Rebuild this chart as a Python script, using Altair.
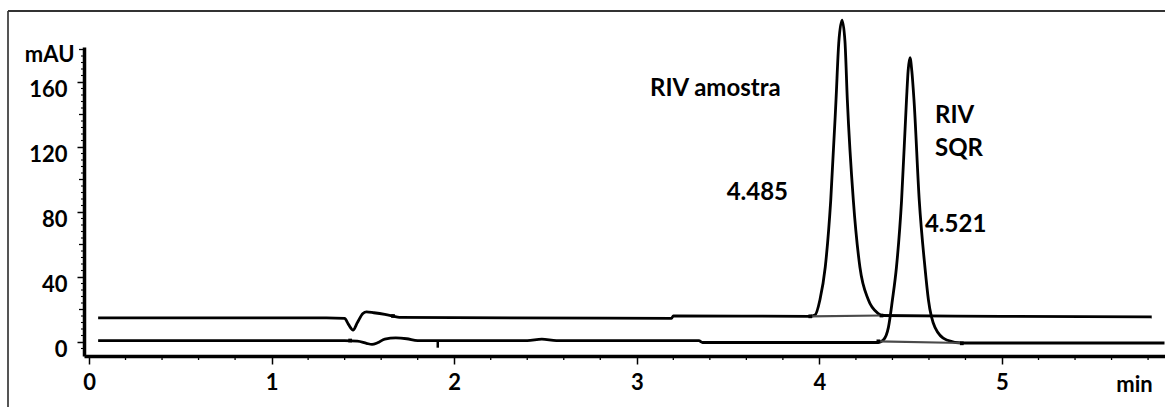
import altair as alt
import pandas as pd

# ---------------- data ----------------
# Trace 1: "RIV amostra" (upper trace), time (min) / absorbance (mAU)
t1 = [0.05, 1.30, 1.40, 1.42, 1.446, 1.47, 1.50, 1.52, 1.56, 1.62, 1.665, 1.70,
      3.19, 3.20, 3.95, 3.976, 4.003, 4.032, 4.062, 4.091, 4.106, 4.124, 4.14,
      4.153, 4.186, 4.222, 4.268, 4.323, 4.34, 5.0, 5.82]
v1 = [14.8, 14.8, 14.5, 11.0, 7.4, 12.0, 17.5, 18.5, 18.0, 17.0, 16.0, 15.2,
      14.6, 16.0, 15.8, 16.6, 26.0, 46.0, 87.0, 149.0, 184.0, 198.0, 185.0,
      149.0, 87.0, 46.0, 26.0, 17.5, 16.3, 15.8, 15.4]

# Trace 2: "RIV SQR" (lower trace)
t2 = [0.05, 1.40, 1.47, 1.52, 1.55, 1.58, 1.62, 1.68, 1.74, 1.80, 2.40, 2.48,
      2.56, 3.34, 3.36, 4.323, 4.35, 4.378, 4.40, 4.422, 4.45, 4.477, 4.486,
      4.496, 4.506, 4.518, 4.547, 4.578, 4.597, 4.633, 4.697, 4.78, 5.89]
v2 = [0.8, 0.8, 0.6, -0.8, -1.5, -0.5, 1.8, 2.5, 2.0, 0.8, 0.8, 1.8,
      0.8, 0.8, -0.3, -0.3, 1.2, 9.0, 26.0, 46.0, 87.0, 149.0, 167.0,
      175.0, 167.0, 149.0, 87.0, 46.0, 26.0, 9.0, 1.2, -0.6, -0.6]

# integration baselines (start / end of each peak)
base_t = [3.95, 4.34, 4.323, 4.78]
base_v = [15.8, 16.3, 0.4, -0.6]
base_id = ["p1", "p1", "p2", "p2"]

# integration markers
mark_t = [3.95, 4.34, 4.323, 4.78, 1.665, 1.43]
mark_v = [15.8, 16.3, 0.4, -0.8, 16.0, 0.9]

# small event tick on the lower trace
evt_t = [1.91]
evt_v = [0.8]
evt_v2 = [-3.5]

# annotations
ann_text = ["RIV amostra", "4.485", "RIV", "SQR", "4.521"]
ann_t = [3.43, 3.66, 4.633, 4.633, 4.578]
ann_v = [156.0, 92.0, 139.0, 119.0, 72.0]
ann_align = ["center", "center", "left", "left", "left"]

# axes
x_major = [0, 1, 2, 3, 4, 5]
x_minor = [0.2, 0.4, 0.6, 0.8, 1.2, 1.4, 1.6, 1.8, 2.2, 2.4, 2.6, 2.8,
           3.2, 3.4, 3.6, 3.8, 4.2, 4.4, 4.6, 4.8, 5.2, 5.4, 5.6, 5.8]
y_major = [0, 40, 80, 120, 160]
y_mid = [20, 60, 100, 140, 180]
y_minor = [-4, 4, 8, 12, 16, 24, 28, 32, 36, 44, 48, 52, 56, 64, 68, 72, 76,
           84, 88, 92, 96, 104, 108, 112, 116, 124, 128, 132, 136, 144, 148,
           152, 156, 164, 168, 172, 176]

X_DOMAIN = [-0.0274, 5.8927]
Y_DOMAIN = [-8.615, 181.54]

# ---------------- chart ----------------
W, H = 1081, 309
FONT = "Lato"

xs = alt.Scale(domain=X_DOMAIN, nice=False, zero=False)
ys = alt.Scale(domain=Y_DOMAIN, nice=False, zero=False)

x_axis = alt.Axis(values=x_major, format="d", tickSize=8, tickWidth=1.5,
                  tickColor="black", domainColor="black", domainWidth=3.5,
                  labelFont=FONT, labelFontWeight="bold", labelFontSize=22,
                  labelColor="black", labelPadding=8, grid=False,
                  title="min", titleFont=FONT, titleFontWeight="bold",
                  titleFontSize=22, titleColor="black", titleX=1050, titleY=28,
                  titleAlign="center", titleBaseline="middle", titleAngle=0)
y_axis = alt.Axis(values=y_major, format="d", tickSize=7, tickWidth=1.5,
                  tickColor="black", domainColor="black", domainWidth=3.5,
                  labelFont=FONT, labelFontWeight="bold", labelFontSize=22,
                  labelColor="black", labelPadding=10, labelOffset=7, grid=False,
                  title="mAU", titleFont=FONT, titleFontWeight="bold",
                  titleFontSize=22, titleColor="black", titleX=-10, titleY=7,
                  titleAlign="right", titleBaseline="middle", titleAngle=0)


def X(field="t"):
    return alt.X(f"{field}:Q", scale=xs, axis=x_axis, title="min")


def Y(field="v"):
    return alt.Y(f"{field}:Q", scale=ys, axis=y_axis, title="mAU")


traces = pd.DataFrame({
    "t": t1 + t2,
    "v": v1 + v2,
    "series": ["RIV amostra"] * len(t1) + ["RIV SQR"] * len(t2),
    "i": list(range(len(t1))) + list(range(len(t2))),
})

lines = alt.Chart(traces).mark_line(color="black", strokeWidth=2.8,
                                    interpolate="monotone").encode(
    x=X(), y=Y(), detail="series:N", order="i:Q",
)

base_df = pd.DataFrame({"t": base_t, "v": base_v, "p": base_id})
baselines = alt.Chart(base_df).mark_line(color="#4a4a4a", strokeWidth=2.2).encode(
    x=X(), y=Y(), detail="p:N",
)

mark_df = pd.DataFrame({"t": mark_t, "v": mark_v})
markers = alt.Chart(mark_df).mark_square(color="black", size=14, opacity=1).encode(
    x=X(), y=Y(),
)

evt_df = pd.DataFrame({"t": evt_t, "v": evt_v, "v2": evt_v2})
events = alt.Chart(evt_df).mark_rule(color="black", strokeWidth=2.5).encode(
    x=X(), y=Y(), y2="v2:Q",
)

ann_df = pd.DataFrame({"text": ann_text, "t": ann_t, "v": ann_v, "al": ann_align})
ann_layers = []
for al in ["center", "left"]:
    ann_layers.append(
        alt.Chart(ann_df[ann_df["al"] == al]).mark_text(
            font=FONT, fontWeight="bold", fontSize=24, color="black",
            align=al, baseline="middle").encode(
            x=X(), y=Y(), text="text:N",
        )
    )

xmin_df = pd.DataFrame({"t": x_minor})
x_minor_ticks = alt.Chart(xmin_df).mark_rule(color="black", strokeWidth=1.3).encode(
    x=X(), y=alt.value(H), y2=alt.value(H + 4),
)

ymid_df = pd.DataFrame({"v": y_mid})
y_mid_ticks = alt.Chart(ymid_df).mark_rule(color="black", strokeWidth=1.3).encode(
    y=Y(), x=alt.value(-5), x2=alt.value(0),
)
ymin_df = pd.DataFrame({"v": y_minor})
y_minor_ticks = alt.Chart(ymin_df).mark_rule(color="black", strokeWidth=1.1).encode(
    y=Y(), x=alt.value(-3), x2=alt.value(0),
)

# outer frame of the original figure (left and top edges)
frame_left = alt.Chart(ann_df).mark_rule(color="#555555", strokeWidth=2).encode(
    x=alt.value(-76), y=alt.value(-36), y2=alt.value(H + 60))
frame_top = alt.Chart(ann_df).mark_rule(color="#333333", strokeWidth=2).encode(
    x=alt.value(-76), x2=alt.value(W + 10), y=alt.value(-36))

chart = alt.layer(
    lines, frame_left, frame_top,
    x_minor_ticks, y_mid_ticks, y_minor_ticks,
    baselines, events, markers, *ann_layers,
).properties(
    width=W, height=H,
    autosize=alt.AutoSizeParams(type="none"),
    padding={"left": 84, "top": 47, "right": 0, "bottom": 51},
    background="white",
).configure_view(stroke=None)

chart.save("out.html", embed_options={"renderer": "svg", "actions": False})
